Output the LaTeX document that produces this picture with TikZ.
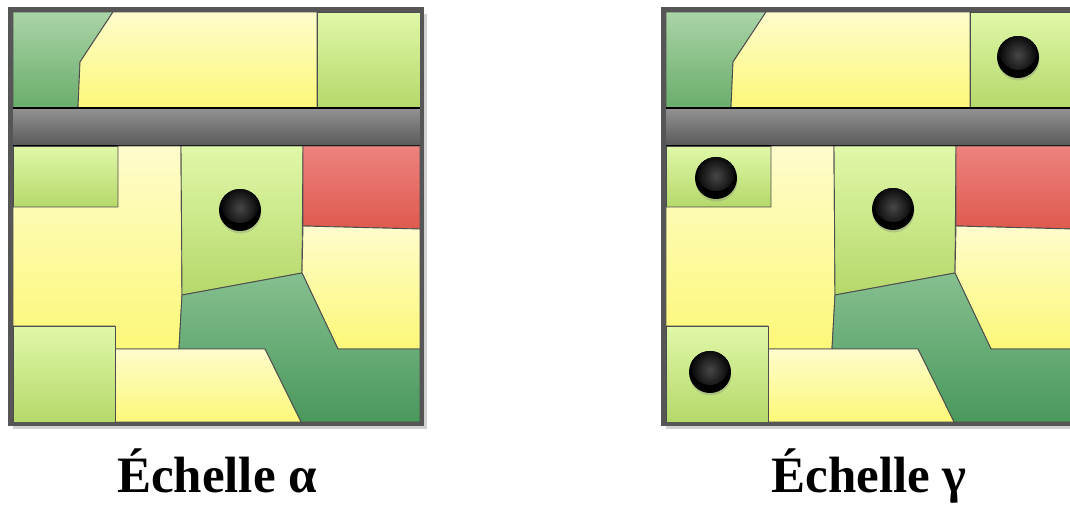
\documentclass[tikz,border=0pt]{standalone}
\usepackage{fontspec}
\setmainfont{Liberation Serif}
\usetikzlibrary{shadows}

\definecolor{bord}{HTML}{4D4D4D}
\definecolor{cadre}{HTML}{565656}
\definecolor{jauneH}{HTML}{FEFCCC}
\definecolor{jauneB}{HTML}{FCF878}
\definecolor{vertH}{HTML}{E0F8A8}
\definecolor{vertB}{HTML}{B5D86A}
\definecolor{foretH}{HTML}{AAD4A6}
\definecolor{foretB}{HTML}{6AAD6C}
\definecolor{bois}{HTML}{86C090}
\definecolor{boisB}{HTML}{4A985C}
\definecolor{rougeH}{HTML}{EE827E}
\definecolor{rougeB}{HTML}{DE5A4E}
\definecolor{routeH}{HTML}{929292}
\definecolor{routeB}{HTML}{595959}

\tikzstyle{parcelle}=[draw=bord, line width=0.9pt, line join=round]
\tikzstyle{jaune}=[parcelle, top color=jauneH, bottom color=jauneB]
\tikzstyle{vert}=[parcelle, top color=vertH, bottom color=vertB]
\tikzstyle{foret}=[parcelle, top color=foretH, bottom color=foretB]
\tikzstyle{foretbas}=[parcelle, top color=bois, bottom color=boisB]
\tikzstyle{rouge}=[parcelle, top color=rougeH, bottom color=rougeB]
\tikzstyle{route}=[top color=routeH, bottom color=routeB]
\tikzstyle{point}=[%
	circle, inner sep = 0, minimum size = 42pt, fill=black,
	drop shadow={shadow xshift=0.5pt, shadow yshift=-2.5pt, opacity=0.3},
	path picture={
		\shade[inner color=black!72, outer color=black]
			([yshift=-15pt]path picture bounding box.north) circle (19pt);
	}%
]
\tikzstyle{titre}=[anchor=base, font=\bfseries\fontsize{51}{60}\selectfont]

% the map, in pixels of its own frame
\newcommand{\dessincarte}{%
	\fill[black, opacity=0.18] (13,14) rectangle (427,429);
	\fill[white] (10.5,9.5) rectangle (422,424);
	% top band
	\draw[foret] (13,12) -- (113,12) -- (80,62) -- (78,108) -- (13,108) -- cycle;
	\draw[jaune] (113,12) -- (317,12) -- (317,108) -- (78,108) -- (80,62) -- cycle;
	\draw[vert] (317,12) rectangle (420,108);
	% road
	\shade[route] (13,108) rectangle (420,146);
	\draw[black, line width=1.5pt] (13,108) -- (420,108) (13,146) -- (420,146);
	% bottom part
	\draw[vert] (13,146) rectangle (118,207);
	\draw[jaune] (13,207) -- (118,207) -- (118,146) -- (181,146) -- (182,295)
		-- (179,349) -- (115,349) -- (115,326) -- (13,326) -- cycle;
	\draw[vert] (181,146) -- (303,146) -- (302,273) -- (182,295) -- cycle;
	\draw[rouge] (303,146) -- (420,146) -- (420,229) -- (303,226) -- cycle;
	\draw[jaune] (303,226) -- (420,229) -- (420,349) -- (338,349) -- (302,273) -- cycle;
	\draw[foretbas] (182,295) -- (302,273) -- (338,349) -- (420,349) -- (420,422)
		-- (301,422) -- (265,349) -- (179,349) -- cycle;
	\draw[jaune] (115,349) -- (265,349) -- (301,422) -- (115,422) -- cycle;
	\draw[vert] (13,326) rectangle (115,422);
	% frame
	\draw[cadre, line width=4.5pt] (10.5,9.5) rectangle (422,424);
}

\begin{document}
\begin{tikzpicture}[x=1pt, y=-1pt]
	\clip (0,0) rectangle (1070,504);
	\fill[white] (0,0) rectangle (1070,504);

	\begin{scope}
		\dessincarte
		\node[point] (a1) at (240,210) {};
	\end{scope}
	\node[titre] (alpha) at (217,492) {Échelle α};

	\begin{scope}[shift={(653,0)}]
		\dessincarte
		\foreach \n/\x/\y in {1/365/57, 2/63/178, 3/240/209, 4/57/372} {
			\node[point] (g\n) at (\x,\y) {};
		}
	\end{scope}
	\node[titre] (gamma) at (869,492) {Échelle γ};
\end{tikzpicture}
\end{document}
